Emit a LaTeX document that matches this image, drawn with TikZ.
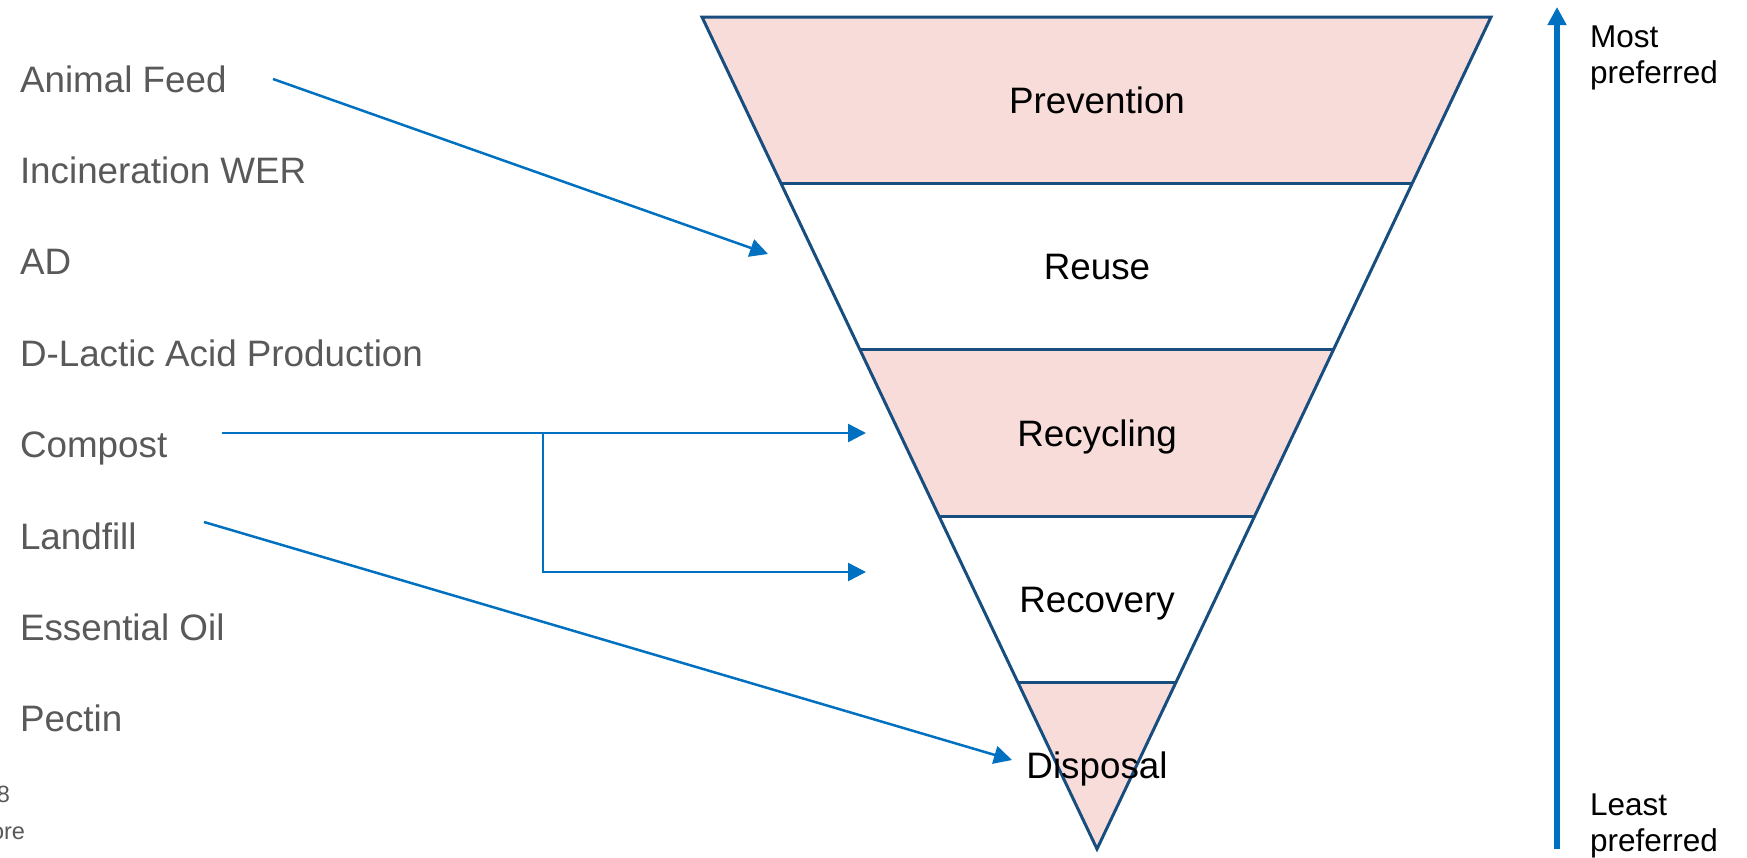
\documentclass[tikz,border=0pt]{standalone}
\usepackage{fontspec}
\setmainfont{Liberation Sans}
\usetikzlibrary{arrows.meta,calc}

\definecolor{flowblue}{HTML}{0070C0}
\definecolor{edgeblue}{HTML}{174D7F}
\definecolor{bandpink}{HTML}{F8DCD9}
\definecolor{labelgray}{HTML}{595959}

\begin{document}
\begin{tikzpicture}
            [x=1pt,y=-1pt,every node/.style={inner sep=0,outer sep=0},
             source/.style={anchor=base west,text=labelgray,font=\fontsize{36.8}{44}\selectfont},
             level/.style={anchor=base,text=black,font=\fontsize{36.8}{44}\selectfont},
             rank label/.style={anchor=base west,align=left,text=black,font=\fontsize{31.5}{36}\selectfont},
             flow/.style={draw=flowblue,line width=2.5pt,-{Triangle[length=18pt,width=18pt]}},
             rank/.style={draw=flowblue,line width=6pt,-{Triangle[length=18pt,width=18pt]}}]

            \useasboundingbox (0,0) rectangle (1747,857);

            \coordinate (top-l) at (702,17);
            \coordinate (top-r) at (1491,17);
            \coordinate (tip) at (1097,849);

            % pink bands
            \foreach \a/\b in {0/0.2,0.4/0.6,0.8/1}
              \fill[bandpink] ($(top-l)!\a!(tip)$) -- ($(top-r)!\a!(tip)$) -- ($(top-r)!\b!(tip)$) -- ($(top-l)!\b!(tip)$) -- cycle;
            \foreach \a in {0.2,0.4,0.6,0.8}
              \draw[edgeblue,line width=3pt] ($(top-l)!\a!(tip)$) -- ($(top-r)!\a!(tip)$);
            \draw[edgeblue,line width=3pt] (top-l) -- (top-r) -- (tip) -- cycle;

            \foreach \txt [count=\i] in {Prevention,Reuse,Recycling,Recovery,Disposal}
              \node[level] (b\i) at (1097,{17+832*(\i-0.5)/5+13}) {\txt};

            \node[source] (feed) at (20,92) {Animal Feed};
            \node[source] (incin) at (20,183.4) {Incineration WER};
            \node[source] (ad) at (20,274.8) {AD};
            \node[source] (lactic) at (20,366.2) {D-Lactic Acid Production};
            \node[source] (compost) at (20,457.6) {Compost};
            \node[source] (landfill) at (20,549) {Landfill};
            \node[source] (oil) at (20,640.4) {Essential Oil};
            \node[source] (pectin) at (20,731.8) {Pectin};

            \node[anchor=base east,text=labelgray,font=\fontsize{23.5}{28}\selectfont] (frag1) at (10,802) {8};
            \node[anchor=base east,text=labelgray,font=\fontsize{23.5}{28}\selectfont] (frag2) at (25,839) {ore};

            \coordinate (feed-out) at (273,79);
            \coordinate (reuse-in) at (768,254);
            \coordinate (compost-out) at (222,433);
            \coordinate (split) at (543,433);
            \coordinate (recycling-in) at (866,433);
            \coordinate (recovery-in) at (866,572);
            \coordinate (landfill-out) at (204,522);
            \coordinate (disposal-in) at (1012,760);

            \draw[flow] (feed-out) -- (reuse-in);
            \draw[flow] (compost-out) -- (recycling-in);
            \draw[flow] (split) |- (recovery-in);
            \draw[flow] (landfill-out) -- (disposal-in);

            \coordinate (least) at (1557,849);
            \coordinate (most) at (1557,7);
            \draw[rank] (least) -- (most);

            \node[rank label] (most-lbl) at (1590,83) {Most\\preferred};
            \node[rank label] (least-lbl) at (1590,851) {Least\\preferred};
          \end{tikzpicture}
\end{document}
